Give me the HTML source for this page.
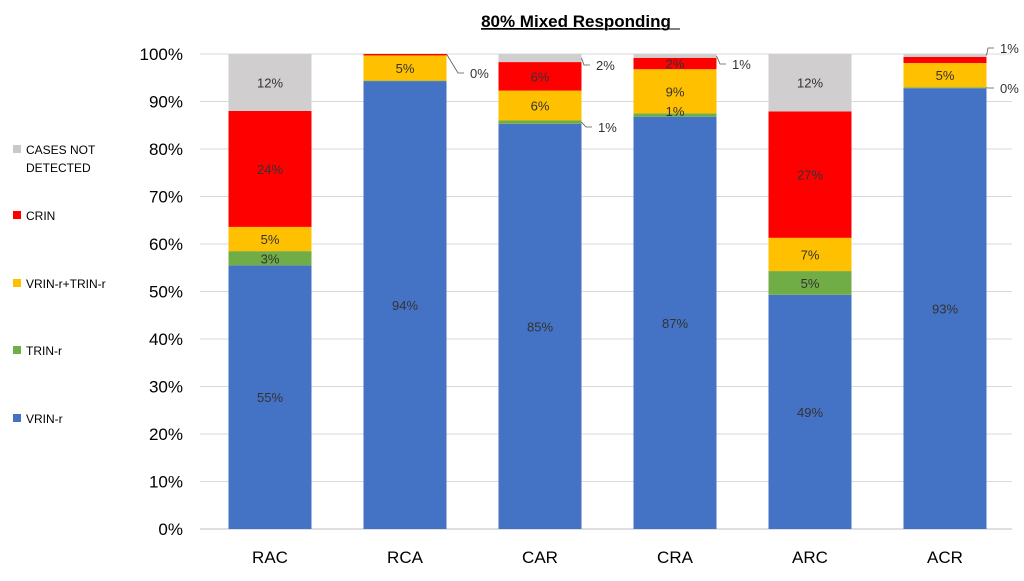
<!DOCTYPE html>
<html><head><meta charset="utf-8"><style>
body{margin:0;background:#fff;font-family:"Liberation Sans",sans-serif;}
svg text{font-family:"Liberation Sans",sans-serif;}
</style></head><body>
<svg id="chart" width="1024" height="576">
<text x="576" y="27" text-anchor="middle" font-size="17" font-weight="bold" text-decoration="underline">80% Mixed Responding</text>
<line x1="558" y1="29" x2="680" y2="29" stroke="#000" stroke-width="1"/>
<g id="grid"></g><g id="bars"></g><g id="labels"></g>
<g font-size="12">
<rect x="13" y="145" width="8" height="8" fill="#c9c9c9"/>
<text x="26" y="154">CASES NOT</text>
<text x="26" y="172">DETECTED</text>
<rect x="13" y="211" width="8" height="8" fill="#ff0000"/>
<text x="26" y="220">CRIN</text>
<rect x="13" y="279" width="8" height="8" fill="#ffc000"/>
<text x="26" y="288">VRIN-r+TRIN-r</text>
<rect x="13" y="346" width="8" height="8" fill="#70ad47"/>
<text x="26" y="355">TRIN-r</text>
<rect x="13" y="414" width="8" height="8" fill="#4472c4"/>
<text x="26" y="423">VRIN-r</text>
</g>
</svg>
<script>
const categories=["RAC","RCA","CAR","CRA","ARC","ACR"];
const vrin=[55.5,94.3,85.3,86.8,49.3,92.8];
const trin=[3,0.1,0.7,0.7,5,0.2];
const vrinTrin=[5.1,5.3,6.3,9.3,7,5.1];
const crin=[24.4,0.3,6,2.4,26.6,1.3];
const notDetected=[12,0.1,1.7,0.8,12.1,0.6];
const vrinLbl=["55%","94%","85%","87%","49%","93%"];
const trinLbl=["3%","0%","1%","1%","5%","0%"];
const vtLbl=["5%","5%","6%","9%","7%","5%"];
const crinLbl=["24%","0%","6%","2%","27%","1%"];
const ndLbl=["12%","0%","2%","1%","12%","1%"];
const yTicks=[0,10,20,30,40,50,60,70,80,90,100];
const ns="http://www.w3.org/2000/svg";
const y0=529,ppu=4.75,x0=270,step=135,bw=83;
const y=v=>y0-v*ppu, x=i=>x0+i*step;
function mk(tag,attrs,parent){const e=document.createElementNS(ns,tag);for(const k in attrs)e.setAttribute(k,attrs[k]);parent.appendChild(e);return e;}
const grid=document.getElementById('grid'),bars=document.getElementById('bars'),labels=document.getElementById('labels');
yTicks.forEach(t=>{
 const l=mk('line',{x1:200,x2:1012,y1:y(t),y2:y(t),stroke:t===0?'#bfbfbf':'#d9d9d9','stroke-width':1},grid);
 
 
 const tx=mk('text',{x:183,y:y(t)+6,'text-anchor':'end','font-size':17,fill:'#000'},grid);
 tx.textContent=t+'%';
 
 
});
const series=[[vrin,'#4472c4','vrin',vrinLbl],[trin,'#70ad47','trin',trinLbl],[vrinTrin,'#ffc000','vrin-trin',vtLbl],[crin,'#ff0000','crin',crinLbl],[notDetected,'#d0cece','not-detected',ndLbl]];
categories.forEach((c,i)=>{
 let cum=0;
 series.forEach(([arr,col,nm,lbl],si)=>{
  const v=arr[i],top=y(cum+v),h=v*ppu;
  const r=mk('rect',{x:x(i)-bw/2,y:top,width:bw,height:h,fill:col},bars);
  
  
  if(v>=0.5 && !(si===1&&v<2.5) && !(si===4&&v<2.5) && !(si===3&&v<2)){
   const t=mk('text',{x:x(i),y:top+h/2+5,'text-anchor':'middle','font-size':13,fill:'#333'},labels);
   t.textContent=lbl[i];
   
   
  }
  cum+=v;
 });
 const xl=mk('text',{x:x(i),y:563,'text-anchor':'middle','font-size':17,fill:'#000'},labels);
 xl.textContent=c;
 
 
});
// small inside labels
[[3,1,trinLbl,'trin',0],[3,3,crinLbl,'crin',0]].forEach(([i,si])=>{});
function inside(i,base,v,txt,nm){const t=mk('text',{x:x(i),y:y(base+v/2)+5,'text-anchor':'middle','font-size':13,fill:'#333'},labels);t.textContent=txt;
 
 }
inside(3,vrin[3]+0.9,trin[3],trinLbl[3],'value-label-trin-cra');
// callouts
function callout(i,val,lx,ly,txt,nm){
 const bx=x(i)+bw/2,by=y(val);
 mk('polyline',{points:`${bx},${by} ${lx-12},${ly-5} ${lx-6},${ly-5}`,fill:'none',stroke:'#555','stroke-width':0.8},labels);
 const t=mk('text',{x:lx,y:ly,'font-size':13,fill:'#333'},labels);t.textContent=txt;
 
 
}
callout(1,vrin[1]+trin[1]+vrinTrin[1]+crin[1],470,78,crinLbl[1],'callout-crin-rca');
callout(2,100-notDetected[2]/2,596,70,ndLbl[2],'callout-nd-car');
callout(2,vrin[2]+trin[2]/2,598,132,trinLbl[2],'callout-trin-car');
callout(3,100-notDetected[3]/2,732,69,ndLbl[3],'callout-nd-cra');
callout(5,100-notDetected[5]/2,1000,53,ndLbl[5],'callout-nd-acr');
callout(5,vrin[5]+trin[5]/2,1000,93,trinLbl[5],'callout-trin-acr');
</script>
</body></html>
